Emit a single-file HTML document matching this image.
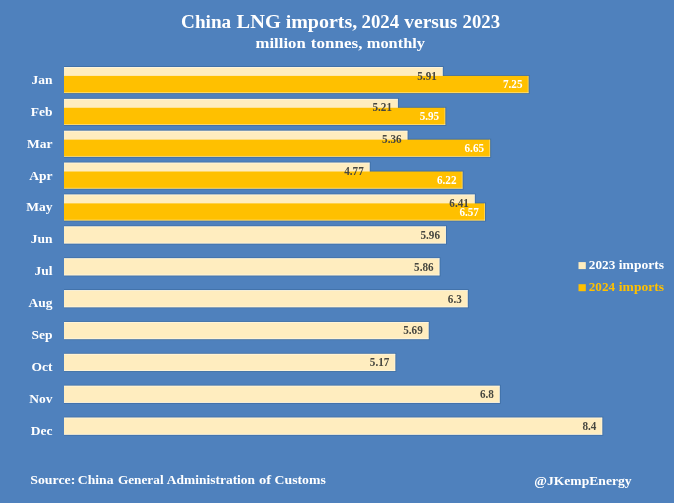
<!DOCTYPE html>
<html><head><meta charset="utf-8">
<style>
html,body{margin:0;padding:0;background:#4F81BD;}
svg{display:block;will-change:transform;}
text{font-family:"Liberation Serif",serif;font-weight:bold;}
.dl{font-size:12px;}
.ml{font-size:13.5px;fill:#FFFFFF;}
</style></head><body>
<svg width="674" height="503" viewBox="0 0 674 503">

<rect x="0" y="0" width="674" height="503" fill="#4F81BD"/>
<rect x="64.0" y="66.10" width="379.71" height="19.00" fill="#2f5a8c" fill-opacity="0.45"/>
<rect x="64.0" y="75.00" width="465.58" height="19.00" fill="#2f5a8c" fill-opacity="0.45"/>
<rect x="64.0" y="97.97" width="334.86" height="19.00" fill="#2f5a8c" fill-opacity="0.45"/>
<rect x="64.0" y="106.87" width="382.28" height="19.00" fill="#2f5a8c" fill-opacity="0.45"/>
<rect x="64.0" y="129.84" width="344.47" height="19.00" fill="#2f5a8c" fill-opacity="0.45"/>
<rect x="64.0" y="138.74" width="427.13" height="19.00" fill="#2f5a8c" fill-opacity="0.45"/>
<rect x="64.0" y="161.71" width="306.66" height="19.00" fill="#2f5a8c" fill-opacity="0.45"/>
<rect x="64.0" y="170.61" width="399.58" height="19.00" fill="#2f5a8c" fill-opacity="0.45"/>
<rect x="64.0" y="193.58" width="411.75" height="19.00" fill="#2f5a8c" fill-opacity="0.45"/>
<rect x="64.0" y="202.48" width="422.01" height="19.00" fill="#2f5a8c" fill-opacity="0.45"/>
<rect x="64.0" y="225.45" width="382.92" height="19.00" fill="#2f5a8c" fill-opacity="0.45"/>
<rect x="64.0" y="257.32" width="376.51" height="19.00" fill="#2f5a8c" fill-opacity="0.45"/>
<rect x="64.0" y="289.19" width="404.70" height="19.00" fill="#2f5a8c" fill-opacity="0.45"/>
<rect x="64.0" y="321.06" width="365.62" height="19.00" fill="#2f5a8c" fill-opacity="0.45"/>
<rect x="64.0" y="352.93" width="332.29" height="19.00" fill="#2f5a8c" fill-opacity="0.45"/>
<rect x="64.0" y="384.80" width="436.74" height="19.00" fill="#2f5a8c" fill-opacity="0.45"/>
<rect x="64.0" y="416.67" width="539.27" height="19.00" fill="#2f5a8c" fill-opacity="0.45"/>
<rect x="64.0" y="67.00" width="378.71" height="17.2" fill="#FFEDBF"/><rect x="64.0" y="67.00" width="378.71" height="0.9" fill="#fff" fill-opacity="0.45"/><rect x="64.0" y="83.30" width="378.71" height="0.9" fill="#fff" fill-opacity="0.45"/><rect x="441.81" y="67.00" width="0.9" height="17.2" fill="#fff" fill-opacity="0.35"/>
<rect x="64.0" y="98.87" width="333.86" height="17.2" fill="#FFEDBF"/><rect x="64.0" y="98.87" width="333.86" height="0.9" fill="#fff" fill-opacity="0.45"/><rect x="64.0" y="115.17" width="333.86" height="0.9" fill="#fff" fill-opacity="0.45"/><rect x="396.96" y="98.87" width="0.9" height="17.2" fill="#fff" fill-opacity="0.35"/>
<rect x="64.0" y="130.74" width="343.47" height="17.2" fill="#FFEDBF"/><rect x="64.0" y="130.74" width="343.47" height="0.9" fill="#fff" fill-opacity="0.45"/><rect x="64.0" y="147.04" width="343.47" height="0.9" fill="#fff" fill-opacity="0.45"/><rect x="406.57" y="130.74" width="0.9" height="17.2" fill="#fff" fill-opacity="0.35"/>
<rect x="64.0" y="162.61" width="305.66" height="17.2" fill="#FFEDBF"/><rect x="64.0" y="162.61" width="305.66" height="0.9" fill="#fff" fill-opacity="0.45"/><rect x="64.0" y="178.91" width="305.66" height="0.9" fill="#fff" fill-opacity="0.45"/><rect x="368.76" y="162.61" width="0.9" height="17.2" fill="#fff" fill-opacity="0.35"/>
<rect x="64.0" y="194.48" width="410.75" height="17.2" fill="#FFEDBF"/><rect x="64.0" y="194.48" width="410.75" height="0.9" fill="#fff" fill-opacity="0.45"/><rect x="64.0" y="210.78" width="410.75" height="0.9" fill="#fff" fill-opacity="0.45"/><rect x="473.85" y="194.48" width="0.9" height="17.2" fill="#fff" fill-opacity="0.35"/>
<rect x="64.0" y="226.35" width="381.92" height="17.2" fill="#FFEDBF"/><rect x="64.0" y="226.35" width="381.92" height="0.9" fill="#fff" fill-opacity="0.45"/><rect x="64.0" y="242.65" width="381.92" height="0.9" fill="#fff" fill-opacity="0.45"/><rect x="445.02" y="226.35" width="0.9" height="17.2" fill="#fff" fill-opacity="0.35"/>
<rect x="64.0" y="258.22" width="375.51" height="17.2" fill="#FFEDBF"/><rect x="64.0" y="258.22" width="375.51" height="0.9" fill="#fff" fill-opacity="0.45"/><rect x="64.0" y="274.52" width="375.51" height="0.9" fill="#fff" fill-opacity="0.45"/><rect x="438.61" y="258.22" width="0.9" height="17.2" fill="#fff" fill-opacity="0.35"/>
<rect x="64.0" y="290.09" width="403.70" height="17.2" fill="#FFEDBF"/><rect x="64.0" y="290.09" width="403.70" height="0.9" fill="#fff" fill-opacity="0.45"/><rect x="64.0" y="306.39" width="403.70" height="0.9" fill="#fff" fill-opacity="0.45"/><rect x="466.80" y="290.09" width="0.9" height="17.2" fill="#fff" fill-opacity="0.35"/>
<rect x="64.0" y="321.96" width="364.62" height="17.2" fill="#FFEDBF"/><rect x="64.0" y="321.96" width="364.62" height="0.9" fill="#fff" fill-opacity="0.45"/><rect x="64.0" y="338.26" width="364.62" height="0.9" fill="#fff" fill-opacity="0.45"/><rect x="427.72" y="321.96" width="0.9" height="17.2" fill="#fff" fill-opacity="0.35"/>
<rect x="64.0" y="353.83" width="331.29" height="17.2" fill="#FFEDBF"/><rect x="64.0" y="353.83" width="331.29" height="0.9" fill="#fff" fill-opacity="0.45"/><rect x="64.0" y="370.13" width="331.29" height="0.9" fill="#fff" fill-opacity="0.45"/><rect x="394.39" y="353.83" width="0.9" height="17.2" fill="#fff" fill-opacity="0.35"/>
<rect x="64.0" y="385.70" width="435.74" height="17.2" fill="#FFEDBF"/><rect x="64.0" y="385.70" width="435.74" height="0.9" fill="#fff" fill-opacity="0.45"/><rect x="64.0" y="402.00" width="435.74" height="0.9" fill="#fff" fill-opacity="0.45"/><rect x="498.84" y="385.70" width="0.9" height="17.2" fill="#fff" fill-opacity="0.35"/>
<rect x="64.0" y="417.57" width="538.27" height="17.2" fill="#FFEDBF"/><rect x="64.0" y="417.57" width="538.27" height="0.9" fill="#fff" fill-opacity="0.45"/><rect x="64.0" y="433.87" width="538.27" height="0.9" fill="#fff" fill-opacity="0.45"/><rect x="601.37" y="417.57" width="0.9" height="17.2" fill="#fff" fill-opacity="0.35"/>
<rect x="64.0" y="75.90" width="464.58" height="17.2" fill="#FFC000"/><rect x="64.0" y="92.20" width="464.58" height="0.9" fill="#fff" fill-opacity="0.45"/><rect x="527.68" y="75.90" width="0.9" height="17.2" fill="#fff" fill-opacity="0.35"/>
<rect x="64.0" y="107.77" width="381.28" height="17.2" fill="#FFC000"/><rect x="64.0" y="124.07" width="381.28" height="0.9" fill="#fff" fill-opacity="0.45"/><rect x="444.38" y="107.77" width="0.9" height="17.2" fill="#fff" fill-opacity="0.35"/>
<rect x="64.0" y="139.64" width="426.13" height="17.2" fill="#FFC000"/><rect x="64.0" y="155.94" width="426.13" height="0.9" fill="#fff" fill-opacity="0.45"/><rect x="489.23" y="139.64" width="0.9" height="17.2" fill="#fff" fill-opacity="0.35"/>
<rect x="64.0" y="171.51" width="398.58" height="17.2" fill="#FFC000"/><rect x="64.0" y="187.81" width="398.58" height="0.9" fill="#fff" fill-opacity="0.45"/><rect x="461.68" y="171.51" width="0.9" height="17.2" fill="#fff" fill-opacity="0.35"/>
<rect x="64.0" y="203.38" width="421.01" height="17.2" fill="#FFC000"/><rect x="64.0" y="219.68" width="421.01" height="0.9" fill="#fff" fill-opacity="0.45"/><rect x="484.11" y="203.38" width="0.9" height="17.2" fill="#fff" fill-opacity="0.35"/>
<text transform="translate(436.81 79.50) scale(0.93 1)" class="dl" fill="#474740" text-anchor="end">5.91</text>
<text transform="translate(522.48 88.40) scale(0.93 1)" class="dl" fill="#FFFFFF" text-anchor="end">7.25</text>
<text x="52.6" y="83.90" class="ml" text-anchor="end">Jan</text>
<text transform="translate(391.96 111.37) scale(0.93 1)" class="dl" fill="#474740" text-anchor="end">5.21</text>
<text transform="translate(439.18 120.27) scale(0.93 1)" class="dl" fill="#FFFFFF" text-anchor="end">5.95</text>
<text x="52.6" y="115.78" class="ml" text-anchor="end">Feb</text>
<text transform="translate(401.57 143.24) scale(0.93 1)" class="dl" fill="#474740" text-anchor="end">5.36</text>
<text transform="translate(484.03 152.14) scale(0.93 1)" class="dl" fill="#FFFFFF" text-anchor="end">6.65</text>
<text x="52.6" y="147.66" class="ml" text-anchor="end">Mar</text>
<text transform="translate(363.76 175.11) scale(0.93 1)" class="dl" fill="#474740" text-anchor="end">4.77</text>
<text transform="translate(456.48 184.01) scale(0.93 1)" class="dl" fill="#FFFFFF" text-anchor="end">6.22</text>
<text x="52.6" y="179.54" class="ml" text-anchor="end">Apr</text>
<text transform="translate(468.85 206.98) scale(0.93 1)" class="dl" fill="#474740" text-anchor="end">6.41</text>
<text transform="translate(478.91 215.88) scale(0.93 1)" class="dl" fill="#FFFFFF" text-anchor="end">6.57</text>
<text x="52.6" y="211.42" class="ml" text-anchor="end">May</text>
<text transform="translate(440.02 238.85) scale(0.93 1)" class="dl" fill="#474740" text-anchor="end">5.96</text>
<text x="52.6" y="243.30" class="ml" text-anchor="end">Jun</text>
<text transform="translate(433.61 270.72) scale(0.93 1)" class="dl" fill="#474740" text-anchor="end">5.86</text>
<text x="52.6" y="275.18" class="ml" text-anchor="end">Jul</text>
<text transform="translate(461.80 302.59) scale(0.93 1)" class="dl" fill="#474740" text-anchor="end">6.3</text>
<text x="52.6" y="307.06" class="ml" text-anchor="end">Aug</text>
<text transform="translate(422.72 334.46) scale(0.93 1)" class="dl" fill="#474740" text-anchor="end">5.69</text>
<text x="52.6" y="338.94" class="ml" text-anchor="end">Sep</text>
<text transform="translate(389.39 366.33) scale(0.93 1)" class="dl" fill="#474740" text-anchor="end">5.17</text>
<text x="52.6" y="370.82" class="ml" text-anchor="end">Oct</text>
<text transform="translate(493.84 398.20) scale(0.93 1)" class="dl" fill="#474740" text-anchor="end">6.8</text>
<text x="52.6" y="402.70" class="ml" text-anchor="end">Nov</text>
<text transform="translate(596.37 430.07) scale(0.93 1)" class="dl" fill="#474740" text-anchor="end">8.4</text>
<text x="52.6" y="434.58" class="ml" text-anchor="end">Dec</text>
<text x="181.07" y="28.0" font-size="18" fill="#FFFFFF" textLength="50.12" lengthAdjust="spacingAndGlyphs">China</text>
<text x="236.62" y="28.0" font-size="18" fill="#FFFFFF" textLength="44.16" lengthAdjust="spacingAndGlyphs">LNG</text>
<text x="285.68" y="28.0" font-size="18" fill="#FFFFFF" textLength="71.54" lengthAdjust="spacingAndGlyphs">imports,</text>
<text x="361.52" y="28.0" font-size="18" fill="#FFFFFF" textLength="37.63" lengthAdjust="spacingAndGlyphs">2024</text>
<text x="404.30" y="28.0" font-size="18" fill="#FFFFFF" textLength="53.04" lengthAdjust="spacingAndGlyphs">versus</text>
<text x="462.52" y="28.0" font-size="18" fill="#FFFFFF" textLength="37.53" lengthAdjust="spacingAndGlyphs">2023</text>
<text x="255.57" y="47.6" font-size="14.5" fill="#FFFFFF" textLength="50.13" lengthAdjust="spacingAndGlyphs">million</text>
<text x="310.81" y="47.6" font-size="14.5" fill="#FFFFFF" textLength="51.63" lengthAdjust="spacingAndGlyphs">tonnes,</text>
<text x="366.78" y="47.6" font-size="14.5" fill="#FFFFFF" textLength="58.24" lengthAdjust="spacingAndGlyphs">monthly</text>
<text x="30.22" y="484.3" font-size="13.3" fill="#FFFFFF" textLength="45.04" lengthAdjust="spacingAndGlyphs">Source:</text>
<text x="77.76" y="484.3" font-size="13.3" fill="#FFFFFF" textLength="35.79" lengthAdjust="spacingAndGlyphs">China</text>
<text x="117.88" y="484.3" font-size="13.3" fill="#FFFFFF" textLength="45.72" lengthAdjust="spacingAndGlyphs">General</text>
<text x="166.87" y="484.3" font-size="13.3" fill="#FFFFFF" textLength="88.22" lengthAdjust="spacingAndGlyphs">Administration</text>
<text x="259.05" y="484.3" font-size="13.3" fill="#FFFFFF" textLength="12.16" lengthAdjust="spacingAndGlyphs">of</text>
<text x="274.55" y="484.3" font-size="13.3" fill="#FFFFFF" textLength="51.21" lengthAdjust="spacingAndGlyphs">Customs</text>
<text x="534.23" y="484.6" font-size="13.3" fill="#FFFFFF" textLength="97.38" lengthAdjust="spacingAndGlyphs">@JKempEnergy</text>
<text x="588.79" y="269.0" font-size="13" fill="#FFFFFF" textLength="26.47" lengthAdjust="spacingAndGlyphs">2023</text>
<text x="618.84" y="269.0" font-size="13" fill="#FFFFFF" textLength="45.21" lengthAdjust="spacingAndGlyphs">imports</text>
<text x="588.80" y="290.8" font-size="13" fill="#FFC000" textLength="26.21" lengthAdjust="spacingAndGlyphs">2024</text>
<text x="618.84" y="290.8" font-size="13" fill="#FFC000" textLength="45.21" lengthAdjust="spacingAndGlyphs">imports</text>
<rect x="578.5" y="262.1" width="7.3" height="7" fill="#FFEDBF"/>
<rect x="578.5" y="284.2" width="7.3" height="7" fill="#FFC000"/>
</svg>
</body></html>
